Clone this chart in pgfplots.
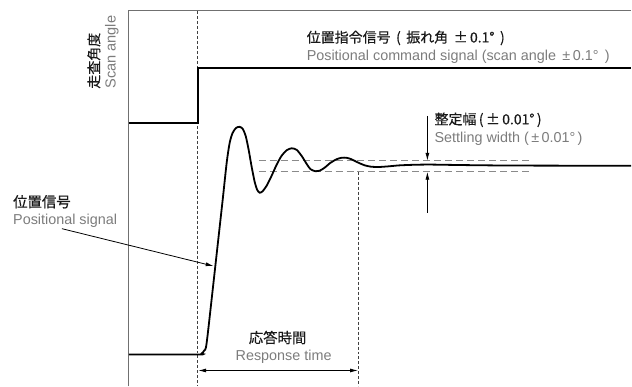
\documentclass[border=0pt]{standalone}
\usepackage{pgfplots}
\pgfplotsset{compat=1.18}
\usetikzlibrary{arrows.meta}
\usepackage{fontspec}
\setmainfont{Liberation Sans}
\newfontfamily\cjk[RawFeature={embolden=0.4}]{Noto Sans CJK JP}
\definecolor{txtgray}{HTML}{7C7C7C}
\definecolor{axgray}{HTML}{707070}
\definecolor{dashgray}{HTML}{8A8A8A}
\begin{document}
\begin{tikzpicture}
\begin{axis}[
  width=632bp, height=387bp, scale only axis,
  xmin=0, xmax=632, ymin=0, ymax=387, y dir=reverse,
  hide axis, clip=false,
]
% bounding
\addplot[draw=none] coordinates {(0,0) (632,387)};
% frame lines
\addplot[axgray, line width=1bp] coordinates {(129,387) (129,11) (632,11)};
% dotted verticals
\addplot[black!75, line width=0.8bp, dash pattern=on 3bp off 2bp] coordinates {(198,11) (198,387)};
\addplot[black!75, line width=0.8bp, dash pattern=on 3bp off 2bp] coordinates {(359,172) (359,387)};
% settling band
\addplot[dashgray, line width=1.1bp, dash pattern=on 7bp off 4bp] coordinates {(259,161) (532,161)};
\addplot[dashgray, line width=1.1bp, dash pattern=on 7bp off 4bp] coordinates {(259,172) (532,172)};
% command signal
\addplot[black, line width=1.8bp] coordinates {(129,123) (198,123) (198,68) (632,68)};
% positional signal
\addplot[black, line width=1.8bp, smooth, tension=0.45] coordinates {
(129,355) (199,355) (202,354) (204.5,351) (207,343) (215,272) (223,200) (227,163)
(230,143) (233,133) (236.5,128) (240,127) (243,129) (246,136) (249,150) (252,167)
(255,182) (257.5,190) (260,193) (263,191.5) (267,186) (272,176) (277,165) (282,156)
(287,150.5) (292,148.5) (297,150) (302,156) (307,164) (311,169.5) (316,171.5) (320,171)
(325,168) (331,163) (337,159.5) (342,158) (347,158) (352,159.5) (358,162.5) (365,165.5)
(372,167) (380,167.2) (390,166.5) (400,165.6) (415,165) (430,164.8) (450,165.1)
(480,165.5) (520,165.8) (632,166)
};
% arrows
\addplot[black, line width=0.8bp, -{Latex[length=8bp,width=4bp]}] coordinates {(62,229) (214,266.5)};
\addplot[black, line width=0.8bp, -{Latex[length=8bp,width=4bp]}] coordinates {(428,116) (428,161)};
\addplot[black, line width=0.8bp, -{Latex[length=8bp,width=4bp]}] coordinates {(428,213) (428,172)};
\addplot[black, line width=0.8bp, {Latex[length=8bp,width=4bp]}-{Latex[length=8bp,width=4bp]}] coordinates {(198.5,371) (358.5,371)};
% texts
\node[rotate=90, anchor=west, inner sep=0pt, text=black!90] at (axis cs:94,89) {\fontsize{14bp}{16bp}\selectfont\cjk 走査角度};
\node[rotate=90, anchor=west, inner sep=0pt, text=txtgray] at (axis cs:112,89) {\fontsize{14.6bp}{16bp}\selectfont Scan angle};
\node[anchor=west, inner sep=0pt, text=black!90] at (axis cs:307,38) {\fontsize{14bp}{16bp}\selectfont\cjk 位置指令信号\ \,(\ \,振れ角\ \,±\,0.1°\ \,)};
\node[anchor=west, inner sep=0pt, text=txtgray] at (axis cs:307,57) {\fontsize{14.4bp}{16bp}\selectfont Positional command signal (scan angle \,±\,0.1°\ \,)};
\node[anchor=west, inner sep=0pt, text=black!90] at (axis cs:435,120) {\fontsize{14bp}{16bp}\selectfont\cjk 整定幅\,(\,±\,0.01°\,)};
\node[anchor=west, inner sep=0pt, text=txtgray] at (axis cs:435,139) {\fontsize{14.4bp}{16bp}\selectfont Settling width (\,±\,0.01°\,)};
\node[anchor=west, inner sep=0pt, text=black!90] at (axis cs:13,202) {\fontsize{14.4bp}{16bp}\selectfont\cjk 位置信号};
\node[anchor=west, inner sep=0pt, text=txtgray] at (axis cs:13,221) {\fontsize{14.4bp}{16bp}\selectfont Positional signal};
\node[anchor=center, inner sep=0pt, text=black!90] at (axis cs:278,338) {\fontsize{14.4bp}{16bp}\selectfont\cjk 応答時間};
\node[anchor=center, inner sep=0pt, text=txtgray] at (axis cs:284,357) {\fontsize{14.4bp}{16bp}\selectfont Response time};
\end{axis}
\end{tikzpicture}
\end{document}
